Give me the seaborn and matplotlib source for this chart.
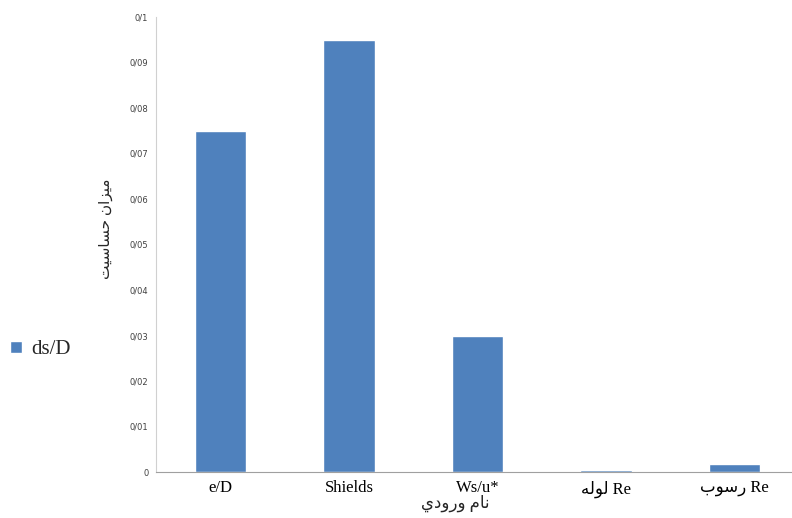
import pandas as pd
import numpy as np
import matplotlib
matplotlib.use("Agg")
import matplotlib.pyplot as plt
import seaborn as sns

# Arabic script written in presentation forms (visual order), matplotlib has no shaping
categories = ["e/D", "Shields", "Ws/u*",
              "\uFEEA\uFEDF\uFEEE\uFEDF Re",          # لوله Re
              "\uFE8F\uFEEE\uFEB3\uFEAD Re"]          # رسوب Re
values = [0.075, 0.095, 0.030, 0.0005, 0.0018]
series_name = "ds/D"
y_ticks = [0, 0.01, 0.02, 0.03, 0.04, 0.05, 0.06, 0.07, 0.08, 0.09, 0.1]
y_tick_labels = ["0", "0/01", "0/02", "0/03", "0/04", "0/05", "0/06", "0/07", "0/08", "0/09", "0/1"]
y_title = "\uFE96\uFEF4\uFEB3\uFE8E\uFEB4\uFEA3 \uFEE5\uFE8D\uFEB0\uFEF4\uFEE3"   # میزان حساسیت
x_title = "\uFEF1\uFEA9\uFEED\uFEAD\uFEED \uFEE1\uFE8E\uFEE7"                 # نام ورودی

df = pd.DataFrame({"input": categories, "value": values, "series": series_name})

sns.set_style("white")
fam = ["Liberation Serif", "DejaVu Sans"]

fig = plt.figure(figsize=(7.92, 5.18), dpi=100)
ax = fig.add_axes([156 / 792, 46 / 518, 643 / 792, 455 / 518])

sns.barplot(data=df, x="input", y="value", hue="series", palette=["#4F81BD"],
            width=0.4, dodge=False, ax=ax, saturation=1)

ax.set_ylim(0, 0.1)
ax.set_xlim(-0.5, 4.5)
ax.set_yticks(y_ticks)
ax.set_yticklabels(y_tick_labels, fontsize=6, color="#404040", family=["Liberation Sans Narrow", "DejaVu Sans"])
ax.set_xticks(range(len(categories)))
ax.set_xticklabels(categories, fontsize=12, family=fam, color="black")
ax.tick_params(axis="x", length=0, pad=6)
ax.set_xticks(np.arange(0.5, 4.5, 1), minor=True)
ax.tick_params(axis="x", which="minor", length=4, color="#A0A0A0", direction="out")
ax.tick_params(axis="y", length=4, color="#BFBFBF", direction="out", pad=1.5)

for s in ["top", "right"]:
    ax.spines[s].set_visible(False)
ax.spines["left"].set_color("#D0D0D0")
ax.spines["bottom"].set_color("#A0A0A0")

ax.set_ylabel(y_title, fontsize=11, family=fam)
ax.yaxis.set_label_coords(-0.067, 0.535)
ax.set_xlabel(x_title, fontsize=12, family=fam)
ax.xaxis.set_label_coords(0.465, -0.05)

ax.legend(loc="center left", bbox_to_anchor=(0.0, 1 - 350 / 518), bbox_transform=fig.transFigure,
          frameon=False, handlelength=0.55, handleheight=0.55, handletextpad=0.45,
          borderpad=0.2, borderaxespad=0.3, prop={"family": fam, "size": 15})

fig.savefig("out.png", dpi=100)
